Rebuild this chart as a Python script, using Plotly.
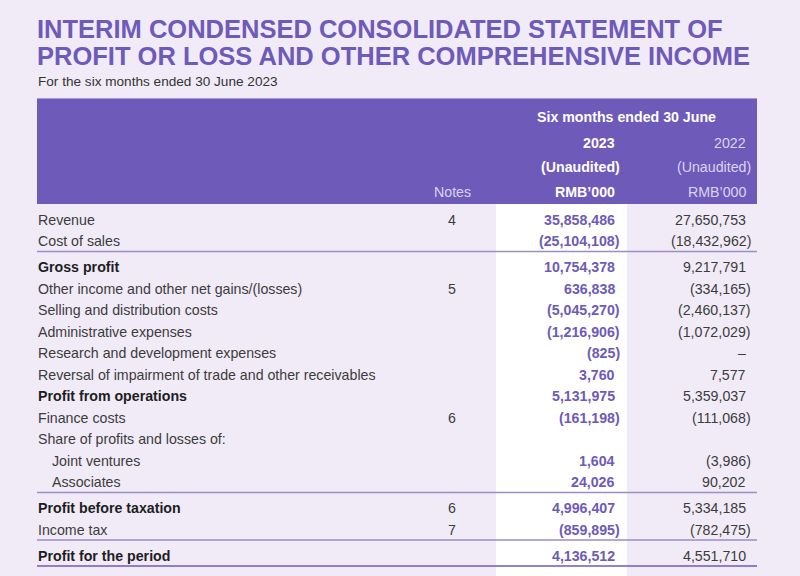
import plotly.graph_objects as go

# ---------------- data ----------------
title_lines = ["INTERIM CONDENSED CONSOLIDATED STATEMENT OF",
               "PROFIT OR LOSS AND OTHER COMPREHENSIVE INCOME"]
subtitle = "For the six months ended 30 June 2023"
period_header = "Six months ended 30 June"
years = ["2023", "2022"]
audit_status = ["(Unaudited)", "(Unaudited)"]
units = ["RMB’000", "RMB’000"]
notes_header = "Notes"

labels = ["Revenue", "Cost of sales", "Gross profit",
          "Other income and other net gains/(losses)",
          "Selling and distribution costs", "Administrative expenses",
          "Research and development expenses",
          "Reversal of impairment of trade and other receivables",
          "Profit from operations", "Finance costs",
          "Share of profits and losses of:", "Joint ventures", "Associates",
          "Profit before taxation", "Income tax", "Profit for the period"]
notes = ["4", "", "", "5", "", "", "", "", "", "6", "", "", "", "6", "7", ""]
values_2023 = [35858486, -25104108, 10754378, 636838, -5045270, -1216906,
               -825, 3760, 5131975, -161198, None, 1604, 24026,
               4996407, -859895, 4136512]
values_2022 = [27650753, -18432962, 9217791, -334165, -2460137, -1072029,
               0, 7577, 5359037, -111068, None, -3986, 90202,
               5334185, -782475, 4551710]

# ---------------- style config ----------------
bold_rows = {"Gross profit", "Profit from operations", "Profit before taxation",
             "Profit for the period"}
indented_rows = {"Joint ventures", "Associates"}
rule_after = {"Cost of sales", "Associates", "Income tax", "Profit for the period"}

BG = "#F1EBF7"
PURPLE = "#6E5AB9"
HEAD_LIGHT = "#DCD3F0"
TEXT = "#3C3C3C"
BOLD_TEXT = "#1E1E1E"
RULE = "#9A8EC4"
FONT = "Liberation Sans, Arial, sans-serif"
FS = 14.2


def fmt(v):
    if v is None:
        return ""
    if v == 0:
        return "–"
    s = f"{abs(v):,}"
    return f"({s})" if v < 0 else s


fig = go.Figure()
ann = []
shapes = []

L, R = 37, 757
# title
for i, t in enumerate(title_lines):
    ann.append(dict(x=L - 2, y=29 + 26.5 * i, text=f"<b>{t}</b>", xanchor="left", yanchor="middle",
                    font=dict(family=FONT, size=25.5, color=PURPLE)))
ann.append(dict(x=L - 1, y=81, text=subtitle, xanchor="left", yanchor="middle",
                font=dict(family=FONT, size=13.6, color="#333333")))

# header box
shapes.append(dict(type="rect", x0=L, x1=R, y0=99, y1=204, fillcolor=PURPLE,
                   line=dict(width=0), layer="below"))
# white column band
shapes.append(dict(type="rect", x0=496, x1=627, y0=204, y1=576, fillcolor="white",
                   line=dict(width=0), layer="below"))

col_r = [617, 748]
ann.append(dict(x=(535 + 718) / 2, y=117, text=f"<b>{period_header}</b>", xanchor="center",
                yanchor="middle", font=dict(family=FONT, size=FS, color="white")))
for j in range(2):
    bold = j == 0
    col = "white" if bold else HEAD_LIGHT
    for k, (txt, yy) in enumerate([(years[j], 143), (audit_status[j], 167), (units[j], 192)]):
        xx = col_r[j] + (4.5 if txt.endswith(")") else 0)
        ann.append(dict(x=xx, y=yy, text=f"<b>{txt}</b>" if bold else txt, xanchor="right",
                        yanchor="middle", font=dict(family=FONT, size=FS, color=col)))
ann.append(dict(x=452, y=192, text=notes_header, xanchor="center", yanchor="middle",
                font=dict(family=FONT, size=FS, color=HEAD_LIGHT)))

# rows
y = 219.5
for i, lab in enumerate(labels):
    b = lab in bold_rows
    ann.append(dict(x=(51 if lab in indented_rows else L) - 1, y=y,
                    text=f"<b>{lab}</b>" if b else lab, xanchor="left", yanchor="middle",
                    font=dict(family=FONT, size=FS, color=BOLD_TEXT if b else TEXT)))
    if notes[i]:
        ann.append(dict(x=452, y=y, text=notes[i], xanchor="center", yanchor="middle",
                        font=dict(family=FONT, size=FS, color=TEXT)))
    v3 = values_2023[i]
    if v3 is not None:
        ann.append(dict(x=col_r[0] + (4.5 if v3 < 0 else 0), y=y, text=f"<b>{fmt(v3)}</b>",
                        xanchor="right", yanchor="middle",
                        font=dict(family=FONT, size=FS, color=PURPLE)))
    v2 = values_2022[i]
    if v2 is not None:
        ann.append(dict(x=col_r[1] + (4.5 if v2 < 0 else 0), y=y, text=fmt(v2),
                        xanchor="right", yanchor="middle",
                        font=dict(family=FONT, size=FS, color=TEXT)))
    if lab in rule_after:
        ly = y + 10.5
        shapes.append(dict(type="line", x0=L, x1=R, y0=ly, y1=ly,
                           line=dict(color=PURPLE if lab == "Profit for the period" else RULE,
                                     width=1.6)))
        y += 26
    else:
        y += 21.5

for a in ann:
    a.update(xref="x", yref="y", showarrow=False)
for s in shapes:
    s.update(xref="x", yref="y")

# thin rule above header
shapes.append(dict(type="line", x0=L, x1=R, y0=98.5, y1=98.5, xref="x", yref="y",
                   line=dict(color="#A898D8", width=1)))

fig.add_trace(go.Scatter(x=[0, 800], y=[0, 576], mode="markers", marker=dict(opacity=0),
                         hoverinfo="skip", showlegend=False))
fig.update_layout(width=800, height=576, margin=dict(l=0, r=0, t=0, b=0),
                  paper_bgcolor=BG, plot_bgcolor=BG, annotations=ann, shapes=shapes,
                  xaxis=dict(range=[0, 800], visible=False, fixedrange=True),
                  yaxis=dict(range=[576, 0], visible=False, fixedrange=True),
                  showlegend=False)
fig.write_html("out.html", config={"displayModeBar": False},
               post_script="document.body.style.margin='0';document.body.style.overflow='hidden';")
